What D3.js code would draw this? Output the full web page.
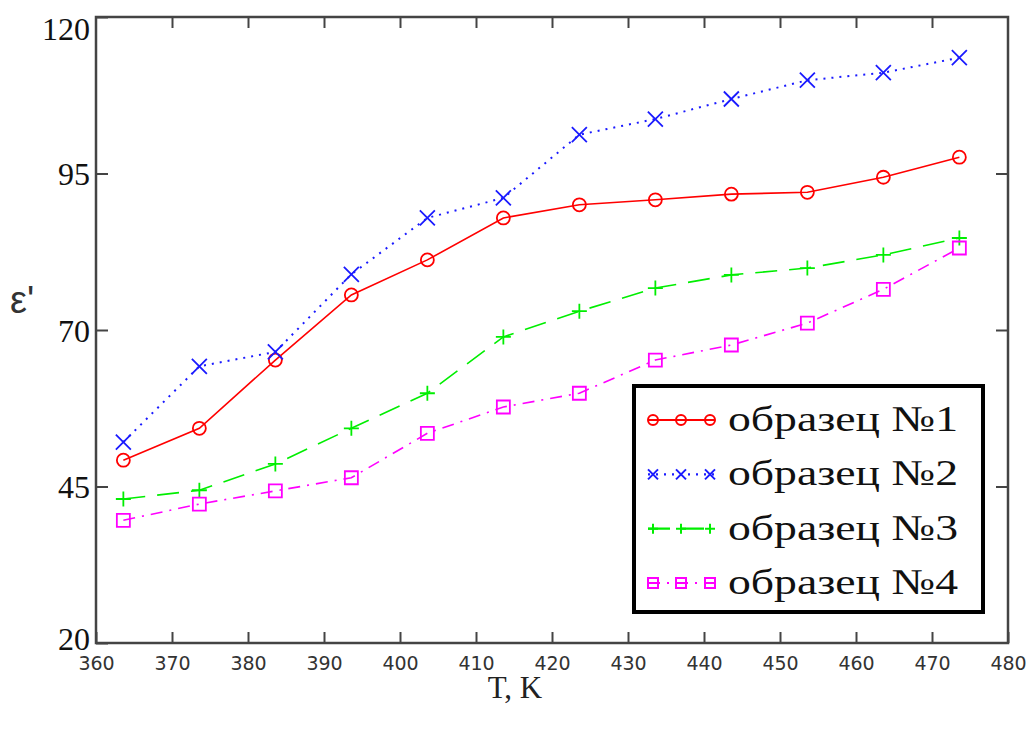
<!DOCTYPE html>
<html>
<head>
<meta charset="utf-8">
<script src="https://cdn.jsdelivr.net/npm/d3@7/dist/d3.min.js"></script>
<style>
  body { margin: 0; background: #fff; }
</style>
</head>
<body>
<div class="graph"></div>
<script>

// temperatures, K
var temps = [363.6, 373.6, 383.6, 393.6, 403.6, 413.6, 423.6, 433.6, 443.6, 453.6, 463.6, 473.6]

// eps' for each sample
var sample1 = [49.2, 54.3, 65.2, 75.6, 81.2, 87.9, 90.0, 90.8, 91.7, 92.0, 94.4, 97.6]
var sample2 = [52.1, 64.2, 66.5, 78.9, 87.9, 91.1, 101.2, 103.7, 106.9, 109.9, 111.1, 113.5]
var sample3 = [43.0, 44.4, 48.6, 54.3, 59.9, 68.9, 73.0, 76.7, 78.8, 79.9, 82.0, 84.7]
var sample4 = [39.6, 42.2, 44.3, 46.4, 53.5, 57.7, 59.9, 65.2, 67.6, 71.1, 76.5, 83.1]

var names = ["образец №1", "образец №2", "образец №3", "образец №4"]
var xTicks = [360, 370, 380, 390, 400, 410, 420, 430, 440, 450, 460, 470, 480]
var yTicks = [20, 45, 70, 95, 120]

var w = 1036
var h = 729
var plotLeft = 96, plotRight = 1008, plotTop = 17, plotBottom = 643

var series = [
  { values: sample1, color: "#ff0000", dash: null,        marker: "circle" },
  { values: sample2, color: "#1a1aff", dash: "2,6",       marker: "x" },
  { values: sample3, color: "#00ee00", dash: "22,12",     marker: "plus" },
  { values: sample4, color: "#ff00ff", dash: "12,7,2,7",  marker: "square" }
]

var x = d3.scaleLinear().domain([360, 480]).range([plotLeft, plotRight])
var y = d3.scaleLinear().domain([20, 120]).range([plotBottom, plotTop])

var svg = d3.select(".graph")
  .append("svg")
  .attr("width", w)
  .attr("height", h)
  .style("background", "#fff")

// marker path, s = half size
var markerPath = function(type, cx, cy, s){
  if(type == "x"){
    return "M" + (cx - s) + "," + (cy - s) + "L" + (cx + s) + "," + (cy + s) +
           "M" + (cx - s) + "," + (cy + s) + "L" + (cx + s) + "," + (cy - s)
  }
  if(type == "plus"){
    return "M" + (cx - s) + "," + cy + "L" + (cx + s) + "," + cy +
           "M" + cx + "," + (cy - s) + "L" + cx + "," + (cy + s)
  }
  if(type == "square"){
    return "M" + (cx - s) + "," + (cy - s) + "h" + (2 * s) + "v" + (2 * s) + "h" + (-2 * s) + "Z"
  }
  // circle
  return "M" + (cx - s) + "," + cy + "a" + s + "," + s + " 0 1,0 " + (2 * s) + ",0" +
         "a" + s + "," + s + " 0 1,0 " + (-2 * s) + ",0"
}

var markerSize = { circle: 6.5, x: 7.5, plus: 7.5, square: 6.5 }

// lines
var line = d3.line()
  .x(function(d, i){ return x(temps[i]) })
  .y(function(d){ return y(d) })

series.forEach(function(s){
  svg.append("path")
    .datum(s.values)
    .attr("d", line)
    .attr("fill", "none")
    .attr("stroke", s.color)
    .attr("stroke-width", s.marker == "x" ? 2 : 1.6)
    .attr("stroke-dasharray", s.dash)

  svg.selectAll(null)
    .data(s.values)
    .enter()
    .append("path")
    .attr("d", function(d, i){
      return markerPath(s.marker, x(temps[i]), y(d), markerSize[s.marker])
    })
    .attr("fill", "none")
    .attr("stroke", s.color)
    .attr("stroke-width", 1.8)
})

// axes: ticks point inward, frame drawn separately
var xAxis = svg.append("g")
  .attr("transform", "translate(0," + plotBottom + ")")
  .call(d3.axisBottom(x).tickValues(xTicks).tickSizeInner(-11).tickSizeOuter(0).tickPadding(13))

xAxis.select(".domain").remove()
xAxis.selectAll(".tick line").attr("stroke", "#444").attr("stroke-width", 2)
xAxis.selectAll(".tick text")
  .attr("font-family", "DejaVu Sans, Verdana, sans-serif")
  .attr("font-size", 19)
  .attr("fill", "#333")
  .attr("y", 14)
  .attr("dy", "0.71em")

var xTop = svg.append("g")
  .attr("transform", "translate(0," + plotTop + ")")
  .call(d3.axisTop(x).tickValues(xTicks.slice(1, -1)).tickSizeInner(-11).tickSizeOuter(0).tickFormat(""))
xTop.select(".domain").remove()
xTop.selectAll(".tick line").attr("stroke", "#444").attr("stroke-width", 2)

var yAxis = svg.append("g")
  .attr("transform", "translate(" + plotLeft + ",0)")
  .call(d3.axisLeft(y).tickValues(yTicks).tickSizeInner(-12).tickSizeOuter(0))
yAxis.select(".domain").remove()
yAxis.selectAll(".tick line").attr("stroke", "#444").attr("stroke-width", 2)
yAxis.selectAll(".tick text")
  .attr("font-family", "Liberation Serif, Times New Roman, serif")
  .attr("font-size", 32)
  .attr("fill", "#111")
  .attr("x", -6)
  .attr("dy", function(d){
    if(d == 120) return "0.7em"
    if(d == 20) return "0.2em"
    return "0.35em"
  })

var yRight = svg.append("g")
  .attr("transform", "translate(" + plotRight + ",0)")
  .call(d3.axisRight(y).tickValues(yTicks.slice(1, -1)).tickSizeInner(-12).tickSizeOuter(0).tickFormat(""))
yRight.select(".domain").remove()
yRight.selectAll(".tick line").attr("stroke", "#444").attr("stroke-width", 2)

svg.append("rect")
  .attr("x", plotLeft)
  .attr("y", plotTop)
  .attr("width", plotRight - plotLeft)
  .attr("height", plotBottom - plotTop)
  .attr("fill", "none")
  .attr("stroke", "#444")
  .attr("stroke-width", 2.5)

// axis titles
svg.append("text")
  .attr("x", 515)
  .attr("y", 698)
  .attr("text-anchor", "middle")
  .attr("font-family", "Liberation Serif, Times New Roman, serif")
  .attr("font-size", 31)
  .attr("fill", "#222")
  .text("T, K")

svg.append("text")
  .attr("x", 10)
  .attr("y", 313)
  .attr("font-family", "Liberation Sans, Arial, sans-serif")
  .attr("font-size", 38)
  .attr("fill", "#333")
  .text("ε'")

// legend
var legend = svg.append("g")

legend.append("rect")
  .attr("x", 634)
  .attr("y", 386)
  .attr("width", 349)
  .attr("height", 226)
  .attr("fill", "#fff")
  .attr("stroke", "#000")
  .attr("stroke-width", 4)

var rowY = d3.scalePoint().domain(names).range([420, 583])

series.forEach(function(s, i){
  var cy = rowY(names[i])
  legend.append("line")
    .attr("x1", 648).attr("x2", 715)
    .attr("y1", cy).attr("y2", cy)
    .attr("stroke", s.color)
    .attr("stroke-width", 2.2)
    .attr("stroke-dasharray", s.dash)
  ;[653, 681, 710].forEach(function(mx){
    legend.append("path")
      .attr("d", markerPath(s.marker, mx, cy, 5))
      .attr("fill", "none")
      .attr("stroke", s.color)
      .attr("stroke-width", 2)
  })
  legend.append("text")
    .attr("x", 728)
    .attr("y", cy + 11)
    .attr("font-family", "Liberation Serif, Times New Roman, serif")
    .attr("font-size", 36)
    .attr("fill", "#111")
    .attr("textLength", 230)
    .attr("lengthAdjust", "spacingAndGlyphs")
    .text(names[i])
})

</script>
</body>
</html>
